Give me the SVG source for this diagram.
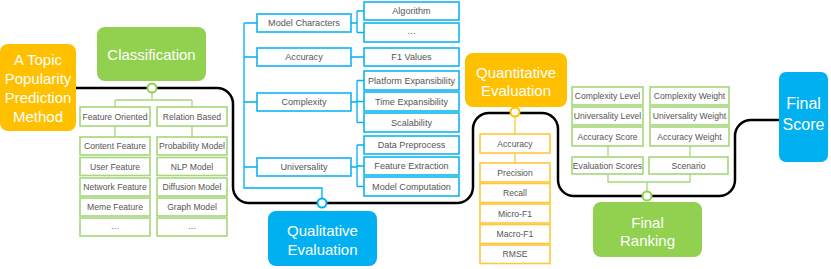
<svg xmlns="http://www.w3.org/2000/svg" width="831" height="269" viewBox="0 0 831 269">
<style>
text{font-family:"Liberation Sans",Arial,sans-serif;text-anchor:middle}
.big{font-size:15px;fill:#fff}
.sm{font-size:8.6px;fill:#555}
.smb{font-size:9.1px;fill:#555}
.gb{fill:#fff;stroke:#A6D77A;stroke-width:1.6}
.bb{fill:#fff;stroke:#00B0F0;stroke-width:1.5}
.ob{fill:#fff;stroke:#FFC83A;stroke-width:1.6}
.gl{fill:none;stroke:#A6D77A;stroke-width:1.3}
.bl{fill:none;stroke:#00B0F0;stroke-width:1.3}
.ol{fill:none;stroke:#FFC83A;stroke-width:1.3}
.main{fill:none;stroke:#000;stroke-width:2.5}
</style>
<g id="connectors">
<path class="main" d="M76 88 H217 A16 16 0 0 1 233 104 V187 A16 16 0 0 0 249 203 H457 A16 16 0 0 0 473 187 V129 A16 16 0 0 1 489 113 H542 A16 16 0 0 1 558 129 V180 A16 16 0 0 0 574 196 H719 A16 16 0 0 0 735 180 V136 A16 16 0 0 1 751 120 H780"/>
<path class="gl" d="M152 92 V100 M115 100 H192 M115 100 V107 M192 100 V107 M115 126 V137 M192 126 V137"/>
<path class="bl" d="M244 23 V188 H322 V198.5 M244 23 H257 M244 57 H257 M244 102 H257 M244 167 H257 M351 23 H357 M357 11 V32.5 M357 11 H364 M357 32.5 H364 M351 57 H364 M351 102 H357 M357 80.5 V122.5 M357 80.5 H364 M357 101.5 H364 M357 122.5 H364 M351 167 H357 M357 145 V186.5 M357 145 H364 M357 166 H364 M357 186.5 H364"/>
<path class="ol" d="M515 116.5 V134 M515 153 V163"/>
<path class="gl" d="M608 146 V157 M690 146 V157 M608 174 V182 H690 V174 M647 182 V191.5"/>
<circle cx="152" cy="88" r="4.5" fill="#fff" stroke="#92D050" stroke-width="2"/>
<circle cx="322" cy="203" r="4.5" fill="#fff" stroke="#00B0F0" stroke-width="2"/>
<circle cx="515" cy="112" r="4.5" fill="#fff" stroke="#FFC000" stroke-width="2"/>
<circle cx="647" cy="196" r="4.5" fill="#fff" stroke="#92D050" stroke-width="2"/>
</g>
<g id="method">
<rect x="0" y="44" width="76" height="87" rx="8" fill="#FFC000"/>
<text class="big" x="38" y="64.5">A Topic</text>
<text class="big" x="38" y="83.5">Popularity</text>
<text class="big" x="38" y="102.5">Prediction</text>
<text class="big" x="38" y="121.5">Method</text>
</g>
<g id="classification">
<rect x="97" y="27" width="109" height="54" rx="8" fill="#92D050"/>
<text class="big" x="151.5" y="60">Classification</text>
</g>
<g id="feature-oriented"><rect class="gb" x="80" y="107" width="70" height="19"/><text class="sm" x="115" y="119.5">Feature Oriented</text></g>
<g id="relation-based"><rect class="gb" x="157" y="107" width="70" height="19"/><text class="sm" x="192" y="119.5">Relation Based</text></g>
<g id="content-feature"><rect class="gb" x="80" y="137" width="70" height="18"/><text class="sm" x="115" y="149">Content Feature</text></g>
<g id="user-feature"><rect class="gb" x="80" y="157.5" width="70" height="18"/><text class="sm" x="115" y="169.5">User Feature</text></g>
<g id="network-feature"><rect class="gb" x="80" y="178" width="70" height="18"/><text class="sm" x="115" y="190">Network Feature</text></g>
<g id="meme-feature"><rect class="gb" x="80" y="198" width="70" height="18"/><text class="sm" x="115" y="210">Meme Feature</text></g>
<g id="feature-more"><rect class="gb" x="80" y="218" width="70" height="18"/><text class="sm" x="115" y="229">…</text></g>
<g id="probability-model"><rect class="gb" x="157" y="137" width="70" height="18"/><text class="sm" x="192" y="149">Probability Model</text></g>
<g id="nlp-model"><rect class="gb" x="157" y="157.5" width="70" height="18"/><text class="sm" x="192" y="169.5">NLP Model</text></g>
<g id="diffusion-model"><rect class="gb" x="157" y="178" width="70" height="18"/><text class="sm" x="192" y="190">Diffusion Model</text></g>
<g id="graph-model"><rect class="gb" x="157" y="198" width="70" height="18"/><text class="sm" x="192" y="210">Graph Model</text></g>
<g id="model-more"><rect class="gb" x="157" y="218" width="70" height="18"/><text class="sm" x="192" y="229">…</text></g>
<g id="qualitative">
<rect x="268" y="211" width="109" height="55" rx="8" fill="#00B0F0"/>
<text class="big" x="322.5" y="235.5">Qualitative</text>
<text class="big" x="322.5" y="254.5">Evaluation</text>
</g>
<g id="model-characters"><rect class="bb" x="257" y="14" width="94" height="18"/><text class="smb" x="304" y="26.3">Model Characters</text></g>
<g id="accuracy-q"><rect class="bb" x="257" y="48" width="94" height="18"/><text class="smb" x="304" y="60.3">Accuracy</text></g>
<g id="complexity"><rect class="bb" x="257" y="93" width="94" height="18"/><text class="smb" x="304" y="105.3">Complexity</text></g>
<g id="universality"><rect class="bb" x="257" y="158" width="94" height="18"/><text class="smb" x="304" y="170.3">Universality</text></g>
<g id="algorithm"><rect class="bb" x="364" y="2" width="95" height="18"/><text class="smb" x="411.5" y="14.3">Algorithm</text></g>
<g id="mc-more"><rect class="bb" x="364" y="23" width="95" height="19"/><text class="smb" x="411.5" y="34">…</text></g>
<g id="f1-values"><rect class="bb" x="364" y="48" width="95" height="18"/><text class="smb" x="411.5" y="60.3">F1 Values</text></g>
<g id="platform-expansibility"><rect class="bb" x="364" y="71" width="95" height="19"/><text class="smb" x="411.5" y="83.8">Platform Expansibility</text></g>
<g id="time-expansibility"><rect class="bb" x="364" y="92" width="95" height="19"/><text class="smb" x="411.5" y="104.8">Time Expansibility</text></g>
<g id="scalability"><rect class="bb" x="364" y="113" width="95" height="19"/><text class="smb" x="411.5" y="125.8">Scalability</text></g>
<g id="data-preprocess"><rect class="bb" x="364" y="136" width="95" height="18"/><text class="smb" x="411.5" y="148.3">Data Preprocess</text></g>
<g id="feature-extraction"><rect class="bb" x="364" y="157" width="95" height="18"/><text class="smb" x="411.5" y="169.3">Feature Extraction</text></g>
<g id="model-computation"><rect class="bb" x="364" y="177" width="95" height="19"/><text class="smb" x="411.5" y="189.8">Model Computation</text></g>
<g id="quantitative">
<rect x="465" y="53" width="102" height="54" rx="8" fill="#FFC000"/>
<text class="big" x="516" y="77.5">Quantitative</text>
<text class="big" x="516" y="95.5">Evaluation</text>
</g>
<g id="accuracy-n"><rect class="ob" x="480" y="134" width="70" height="19"/><text class="sm" x="515" y="146.5">Accuracy</text></g>
<g id="precision"><rect class="ob" x="480" y="163" width="70" height="19"/><text class="sm" x="515" y="175.5">Precision</text></g>
<g id="recall"><rect class="ob" x="480" y="183.5" width="70" height="19"/><text class="sm" x="515" y="196">Recall</text></g>
<g id="micro-f1"><rect class="ob" x="480" y="204" width="70" height="19"/><text class="sm" x="515" y="216.5">Micro-F1</text></g>
<g id="macro-f1"><rect class="ob" x="480" y="224.5" width="70" height="19"/><text class="sm" x="515" y="237">Macro-F1</text></g>
<g id="rmse"><rect class="ob" x="480" y="245" width="70" height="18.5"/><text class="sm" x="515" y="257.3">RMSE</text></g>
<g id="complexity-level"><rect class="gb" x="572" y="87" width="71" height="18"/><text class="sm" x="607.5" y="99">Complexity Level</text></g>
<g id="universality-level"><rect class="gb" x="572" y="107" width="71" height="18"/><text class="sm" x="607.5" y="119">Universality Level</text></g>
<g id="accuracy-score"><rect class="gb" x="572" y="127" width="71" height="19"/><text class="sm" x="607.5" y="139.5">Accuracy Score</text></g>
<g id="evaluation-scores"><rect class="gb" x="572" y="157" width="71" height="17"/><text class="sm" x="607.5" y="168.5">Evaluation Scores</text></g>
<g id="complexity-weight"><rect class="gb" x="650" y="87" width="79" height="18"/><text class="sm" x="689.5" y="99">Complexity Weight</text></g>
<g id="universality-weight"><rect class="gb" x="650" y="107" width="79" height="18"/><text class="sm" x="689.5" y="119">Universality Weight</text></g>
<g id="accuracy-weight"><rect class="gb" x="650" y="127" width="79" height="19"/><text class="sm" x="689.5" y="139.5">Accuracy Weight</text></g>
<g id="scenario"><rect class="gb" x="649" y="157" width="79" height="17"/><text class="sm" x="688.5" y="168.5">Scenario</text></g>
<g id="final-ranking">
<rect x="593" y="202" width="109" height="55" rx="8" fill="#92D050"/>
<text class="big" x="647.5" y="227.5">Final</text>
<text class="big" x="647.5" y="245.5">Ranking</text>
</g>
<g id="final-score">
<rect x="779" y="72" width="49" height="90" rx="7" fill="#00B0F0"/>
<text class="big" x="803.5" y="109" style="font-size:16px">Final</text>
<text class="big" x="803.5" y="130" style="font-size:16px">Score</text>
</g>
</svg>
